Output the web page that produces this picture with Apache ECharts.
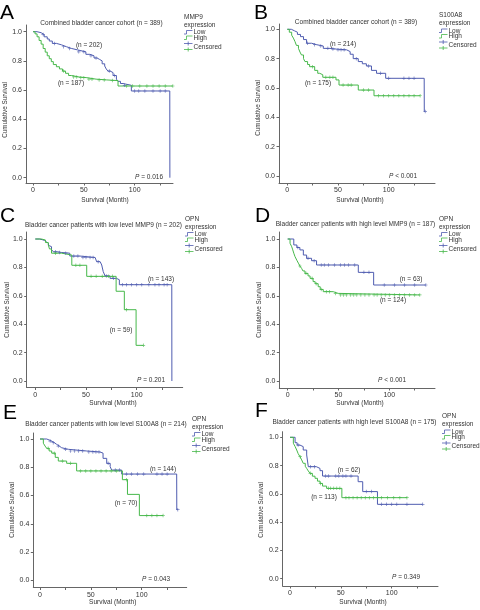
<!DOCTYPE html>
<html><head><meta charset="utf-8">
<script src="https://cdn.jsdelivr.net/npm/echarts@6/dist/echarts.min.js"></script>
<style>html,body{margin:0;padding:0;background:#fff}#c{width:480px;height:610px}</style>
</head><body><div id="c"></div>
<script>
// ---------- DATA ----------
const panelLetters = ['A','B','C','D','E','F'];
const panelTitles = [
  'Combined bladder cancer cohort (n = 389)',
  'Combined bladder cancer cohort (n = 389)',
  'Bladder cancer patients with low level MMP9 (n = 202)',
  'Bladder cancer patients with high level MMP9 (n = 187)',
  'Bladder cancer patients with low level S100A8 (n = 214)',
  'Bladder cancer patients with high level S100A8 (n = 175)'
];
const legendGenes = ['MMP9','S100A8','OPN','OPN','OPN','OPN'];
const legendItems = ['Low','High','Censored'];
const nLowLabels = ['(n = 202)','(n = 214)','(n = 143)','(n = 63)','(n = 144)','(n = 62)'];
const nHighLabels = ['(n = 187)','(n = 175)','(n = 59)','(n = 124)','(n = 70)','(n = 113)'];
const pLabels = ['= 0.016','< 0.001','= 0.201','< 0.001','= 0.043','= 0.349'];
const yTickValues = [0, 0.2, 0.4, 0.6, 0.8, 1.0];
const xLabelValues = [0, 50, 100];
const xTickValues = [0, 25, 50, 75, 100, 125];
const xAxisTitle = 'Survival (Month)';
const yAxisTitle = 'Cumulative Survival';

// Panel A
const lowA = [[0,1],[4,0.993],[8,0.98],[11,0.965],[14,0.95],[16,0.936],[19,0.92],[23,0.91],[28,0.897],[33,0.885],[38,0.875],[44,0.862],[52,0.845],[56,0.835],[60,0.82],[63,0.81],[65.5,0.8],[68,0.78],[70.5,0.765],[72,0.745],[73.7,0.73],[76,0.72],[78.7,0.7],[82,0.675],[83.6,0.66],[86,0.645],[88.5,0.633],[96.7,0.594],[134.5,0.594],[134.6,0]];
const highA = [[0,1],[2,0.985],[4,0.965],[6,0.94],[8,0.915],[10,0.885],[12,0.86],[14,0.835],[16,0.815],[18,0.795],[20,0.775],[23,0.76],[26,0.745],[29,0.73],[32,0.715],[35,0.7],[38,0.69],[45,0.685],[53,0.675],[62,0.67],[72,0.665],[83.6,0.628],[137.5,0.628]];
const lowCensA = [10,21,30,36,45,50,57,62,75,80,90,100,104,110,118,125,130];
const highCensA = [30,40,43,47,50,55,58,65,70,78,92,98,105,112,118,124,130,137.5];
// Panel B
const lowB = [[0,1],[4,0.99],[7,0.98],[10,0.965],[13,0.95],[16,0.93],[19,0.905],[24,0.895],[29,0.886],[35.5,0.87],[42,0.865],[48.7,0.86],[58.5,0.848],[62,0.83],[65,0.8],[70,0.78],[74,0.765],[78,0.75],[83,0.72],[88,0.7],[97,0.666],[135,0.666],[135.1,0.44],[136,0.44]];
const highB = [[0,1],[2,0.98],[4.3,0.96],[6,0.94],[7.6,0.916],[9,0.89],[11,0.87],[12.5,0.845],[14,0.825],[16,0.8],[17.4,0.78],[20,0.76],[22,0.745],[27,0.72],[30,0.7],[32,0.69],[35,0.673],[48,0.655],[51,0.62],[70,0.586],[85.5,0.547],[131,0.547]];
const lowCensB = [20,27,33,40,45,50,53,56,68,80,92,100,115,120,125,136];
const highCensB = [25,38,42,45,55,60,63,75,80,90,95,100,105,110,115,120,125,131];
// Panel C
const lowC = [[0,1],[4,0.995],[7,0.99],[9,0.98],[11,0.97],[13,0.955],[14.5,0.946],[16,0.925],[17.8,0.91],[22,0.905],[26,0.9],[34,0.88],[44,0.87],[59,0.864],[60.5,0.84],[64,0.83],[65.5,0.817],[67,0.77],[68.8,0.74],[73.7,0.723],[80,0.713],[82.9,0.678],[134.6,0.678],[134.7,0]];
const highC = [[0,1],[6,0.993],[10,0.975],[12.8,0.958],[14,0.93],[16,0.9],[26,0.887],[36,0.815],[50.7,0.737],[79.7,0.632],[87.8,0.502],[99.4,0.251],[106.6,0.251]];
const lowCensC = [20,24,30,38,42,47,50,54,57,62,70,77,86,90,95,100,105,112,118,122,127,130];
const highCensC = [20,40,44,55,60,66,72,76,90,106.6];
// Panel D
const lowD = [[0,1],[6,0.958],[9,0.94],[12,0.923],[15.4,0.887],[18.6,0.864],[23.5,0.847],[28.4,0.817],[69.5,0.765],[84.6,0.676],[136,0.676]];
const highD = [[0,1],[2.3,0.97],[4,0.945],[5,0.923],[6,0.9],[7.2,0.876],[9,0.85],[10.5,0.83],[12,0.81],[13.7,0.793],[15,0.775],[17,0.758],[20,0.74],[22,0.723],[25,0.7],[27,0.685],[30,0.664],[32,0.645],[35,0.629],[44.8,0.617],[49.7,0.606],[130,0.606]];
const lowCensD = [10,20,26,33,36,40,46,52,56,60,66,75,80,95,105,115,125,136];
const highCensD = [12,18,24,28,33,38,41,47,52,55,58,62,65,68,72,76,80,85,88,92,96,100,105,110,115,120,125,130];
// Panel E
const lowE = [[0,1],[6.6,0.993],[9,0.985],[11.5,0.974],[14,0.962],[16.4,0.95],[19,0.938],[21.3,0.927],[28,0.915],[46,0.908],[59,0.9],[62,0.863],[65.6,0.828],[69,0.804],[70.5,0.78],[80.3,0.752],[134.4,0.752],[134.5,0.5],[135.5,0.5]];
const highE = [[0,1],[3.3,0.97],[5,0.95],[6.6,0.934],[9,0.915],[11.5,0.9],[15,0.87],[18,0.844],[26.2,0.828],[36,0.774],[81,0.712],[86,0.608],[97.7,0.458],[121,0.458]];
const lowCensE = [10,13,18,25,30,34,38,42,48,52,55,58,67,74,78,85,90,96,102,115,120,125,135.5];
const highCensE = [8,14,22,30,40,45,50,55,60,65,70,75,85,105,110,115,121];
// Panel F
const lowF = [[0,1],[5,0.962],[7,0.945],[9.8,0.934],[13,0.91],[16.4,0.875],[18,0.792],[26,0.78],[29.5,0.764],[32,0.726],[67,0.686],[71.5,0.616],[86,0.526],[130.5,0.526]];
const highF = [[0,1],[3.3,0.958],[5,0.935],[6.6,0.91],[8,0.885],[9.8,0.863],[11.5,0.84],[13,0.816],[15,0.795],[16.4,0.78],[18,0.762],[19.7,0.745],[22,0.725],[24.6,0.71],[27,0.69],[29.5,0.674],[32,0.655],[36,0.639],[51,0.573],[115,0.573]];
const lowCensF = [8,20,24,35,38,45,48,52,55,60,75,80,90,95,100,105,115,130.5];
const highCensF = [10,20,30,38,40,43,46,49,55,58,62,66,70,74,78,82,86,90,96,102,108,115];

const lowCurves = [lowA, lowB, lowC, lowD, lowE, lowF];
const highCurves = [highA, highB, highC, highD, highE, highF];
const lowCens = [lowCensA, lowCensB, lowCensC, lowCensD, lowCensE, lowCensF];
const highCens = [highCensA, highCensB, highCensC, highCensD, highCensE, highCensF];

// ---------- LAYOUT (pixels) ----------
const layout = [
  {axL:26, axR:173, axT:25, axB:183, px0:33, ppm:1.017, py1:31.7, py0:177.7,
   letter:[0,13.5], title:[101.5,23], leg:[184,17], yt:[5,110], xt:[105,200], p:[149,177], nLow:[89,45], nHigh:[71,83.3]},
  {axL:279, axR:435, axT:24, axB:183, px0:287.3, ppm:1.014, py1:29.3, py0:176,
   letter:[254,13.5], title:[356,22.7], leg:[439,15.5], yt:[258,108], xt:[360,200], p:[403,176], nLow:[343,44], nHigh:[318,83]},
  {axL:26.7, axR:182.7, axT:232, axB:387.5, px0:35.3, ppm:1.014, py1:239, py0:381,
   letter:[0,216.5], title:[103.5,225], leg:[185,219], yt:[7,310], xt:[113,403.5], p:[151,380], nLow:[161,279], nHigh:[121,330]},
  {axL:279.3, axR:435, axT:232, axB:388, px0:287.7, ppm:1.016, py1:239, py0:381,
   letter:[255,216.5], title:[355.5,224], leg:[439,219], yt:[259,310], xt:[360,403.5], p:[392,380], nLow:[411,279], nHigh:[393,300]},
  {axL:33.3, axR:186.7, axT:433, axB:587.5, px0:40, ppm:1.017, py1:439, py0:580.3,
   letter:[3,413.5], title:[106,424], leg:[192,419], yt:[12,510], xt:[112.7,602.5], p:[156,579], nLow:[163,469], nHigh:[126,503]},
  {axL:282.7, axR:438, axT:431.7, axB:586, px0:290, ppm:1.017, py1:437.3, py0:578.7,
   letter:[255,411], title:[354.5,422.7], leg:[442,416.5], yt:[261,510], xt:[363,602], p:[406,577], nLow:[349,470], nHigh:[324,497]}
];

const BLUE = '#4f5cb0';
const GREEN = '#46b84a';
const FONT = 'Liberation Sans, Arial, sans-serif';
const TXT = '#333';
const AX = '#666';

function sAt(curve, t) {
  let s = curve[0][1];
  for (const p of curve) { if (p[0] <= t) s = p[1]; }
  return s;
}
const plusSym = 'path://M1.6,0h0.8v4h-0.8zM0,1.6h4v0.8h-4z';

const grids = [], xAxes = [], yAxes = [], series = [], graphics = [];
layout.forEach((L, i) => {
  const ppu = L.py0 - L.py1;
  grids.push({left: L.axL, top: L.axT, width: L.axR - L.axL, height: L.axB - L.axT, containLabel: false});
  xAxes.push({
    gridIndex: i, type: 'value',
    min: (L.axL - L.px0) / L.ppm, max: (L.axR - L.px0) / L.ppm,
    axisLine: {onZero: false, lineStyle: {color: AX, width: 1}},
    axisTick: {show: true, length: 2.5, customValues: xTickValues, lineStyle: {color: AX}},
    axisLabel: {customValues: xLabelValues, margin: 4, fontSize: 7, color: TXT, fontFamily: FONT},
    splitLine: {show: false}
  });
  yAxes.push({
    gridIndex: i, type: 'value',
    min: -(L.axB - L.py0) / ppu, max: 1 + (L.py1 - L.axT) / ppu,
    axisLine: {show: true, onZero: false, lineStyle: {color: AX, width: 1}},
    axisTick: {show: true, length: 2.5, customValues: yTickValues, lineStyle: {color: AX}},
    axisLabel: {customValues: yTickValues, margin: 4, fontSize: 7, color: TXT, fontFamily: FONT,
                formatter: v => v.toFixed(1)},
    splitLine: {show: false}
  });
  [[lowCurves[i], lowCens[i], BLUE], [highCurves[i], highCens[i], GREEN]].forEach(([curve, cens, col]) => {
    series.push({
      type: 'line', xAxisIndex: i, yAxisIndex: i, data: curve, step: 'end',
      symbol: 'none', lineStyle: {color: col, width: 1}, z: 2, silent: true
    });
    series.push({
      type: 'scatter', xAxisIndex: i, yAxisIndex: i,
      data: cens.map(t => [t, sAt(curve, t)]),
      symbol: plusSym, symbolSize: 3.5, itemStyle: {color: col}, z: 3, silent: true
    });
  });

  // text elements
  graphics.push({type: 'text', x: L.letter[0], y: L.letter[1],
    style: {text: panelLetters[i], font: '21px ' + FONT, fill: '#000', align: 'left', verticalAlign: 'middle'}});
  graphics.push({type: 'text', x: L.title[0], y: L.title[1],
    style: {text: panelTitles[i], font: '6.5px ' + FONT, fill: TXT, align: 'center', verticalAlign: 'middle'}});
  graphics.push({type: 'text', x: L.yt[0], y: L.yt[1], rotation: Math.PI / 2,
    style: {text: yAxisTitle, font: '6.3px ' + FONT, fill: TXT, align: 'center', verticalAlign: 'middle'}});
  graphics.push({type: 'text', x: L.xt[0], y: L.xt[1],
    style: {text: xAxisTitle, font: '6.5px ' + FONT, fill: TXT, align: 'center', verticalAlign: 'middle'}});
  graphics.push({type: 'text', x: L.p[0], y: L.p[1],
    style: {text: '{i|P} ' + pLabels[i], font: '6.5px ' + FONT, fill: TXT, align: 'center', verticalAlign: 'middle',
      rich: {i: {fontStyle: 'italic', fontSize: 6.5, fontFamily: FONT, fill: TXT}}}});
  graphics.push({type: 'text', x: L.nLow[0], y: L.nLow[1],
    style: {text: nLowLabels[i], font: '6.5px ' + FONT, fill: TXT, align: 'center', verticalAlign: 'middle'}});
  graphics.push({type: 'text', x: L.nHigh[0], y: L.nHigh[1],
    style: {text: nHighLabels[i], font: '6.5px ' + FONT, fill: TXT, align: 'center', verticalAlign: 'middle'}});

  // legend
  const lx = L.leg[0], ly = L.leg[1];
  graphics.push({type: 'text', x: lx, y: ly,
    style: {text: legendGenes[i], font: '6.5px ' + FONT, fill: TXT, align: 'left', verticalAlign: 'middle'}});
  graphics.push({type: 'text', x: lx, y: ly + 8,
    style: {text: 'expression', font: '6.5px ' + FONT, fill: TXT, align: 'left', verticalAlign: 'middle'}});
  const rows = [ly + 15.5, ly + 21, ly + 30];
  legendItems.forEach((name, k) => {
    graphics.push({type: 'text', x: lx + 9.5, y: rows[k],
      style: {text: name, font: '6.5px ' + FONT, fill: TXT, align: 'left', verticalAlign: 'middle'}});
  });
  [[rows[0], BLUE], [rows[1], GREEN]].forEach(([yy, col]) => {
    graphics.push({type: 'polyline', shape: {points: [[lx, yy + 1.5], [lx + 2.5, yy + 1.5], [lx + 2.5, yy - 2], [lx + 8.5, yy - 2]]},
      style: {stroke: col, lineWidth: 0.8, fill: null}});
  });
  const cy = rows[2];
  [[cy - 3.5, BLUE], [cy + 2.5, GREEN]].forEach(([yy, col]) => {
    graphics.push({type: 'line', shape: {x1: lx, y1: yy, x2: lx + 8.5, y2: yy}, style: {stroke: col, lineWidth: 0.8}});
    graphics.push({type: 'line', shape: {x1: lx + 4.2, y1: yy - 2, x2: lx + 4.2, y2: yy + 2}, style: {stroke: col, lineWidth: 0.8}});
  });
});

const chart = echarts.init(document.getElementById('c'), null, {renderer: 'canvas'});
chart.setOption({
  animation: false,
  backgroundColor: '#fff',
  grid: grids, xAxis: xAxes, yAxis: yAxes, series: series,
  graphic: {elements: graphics}
});
</script></body></html>
